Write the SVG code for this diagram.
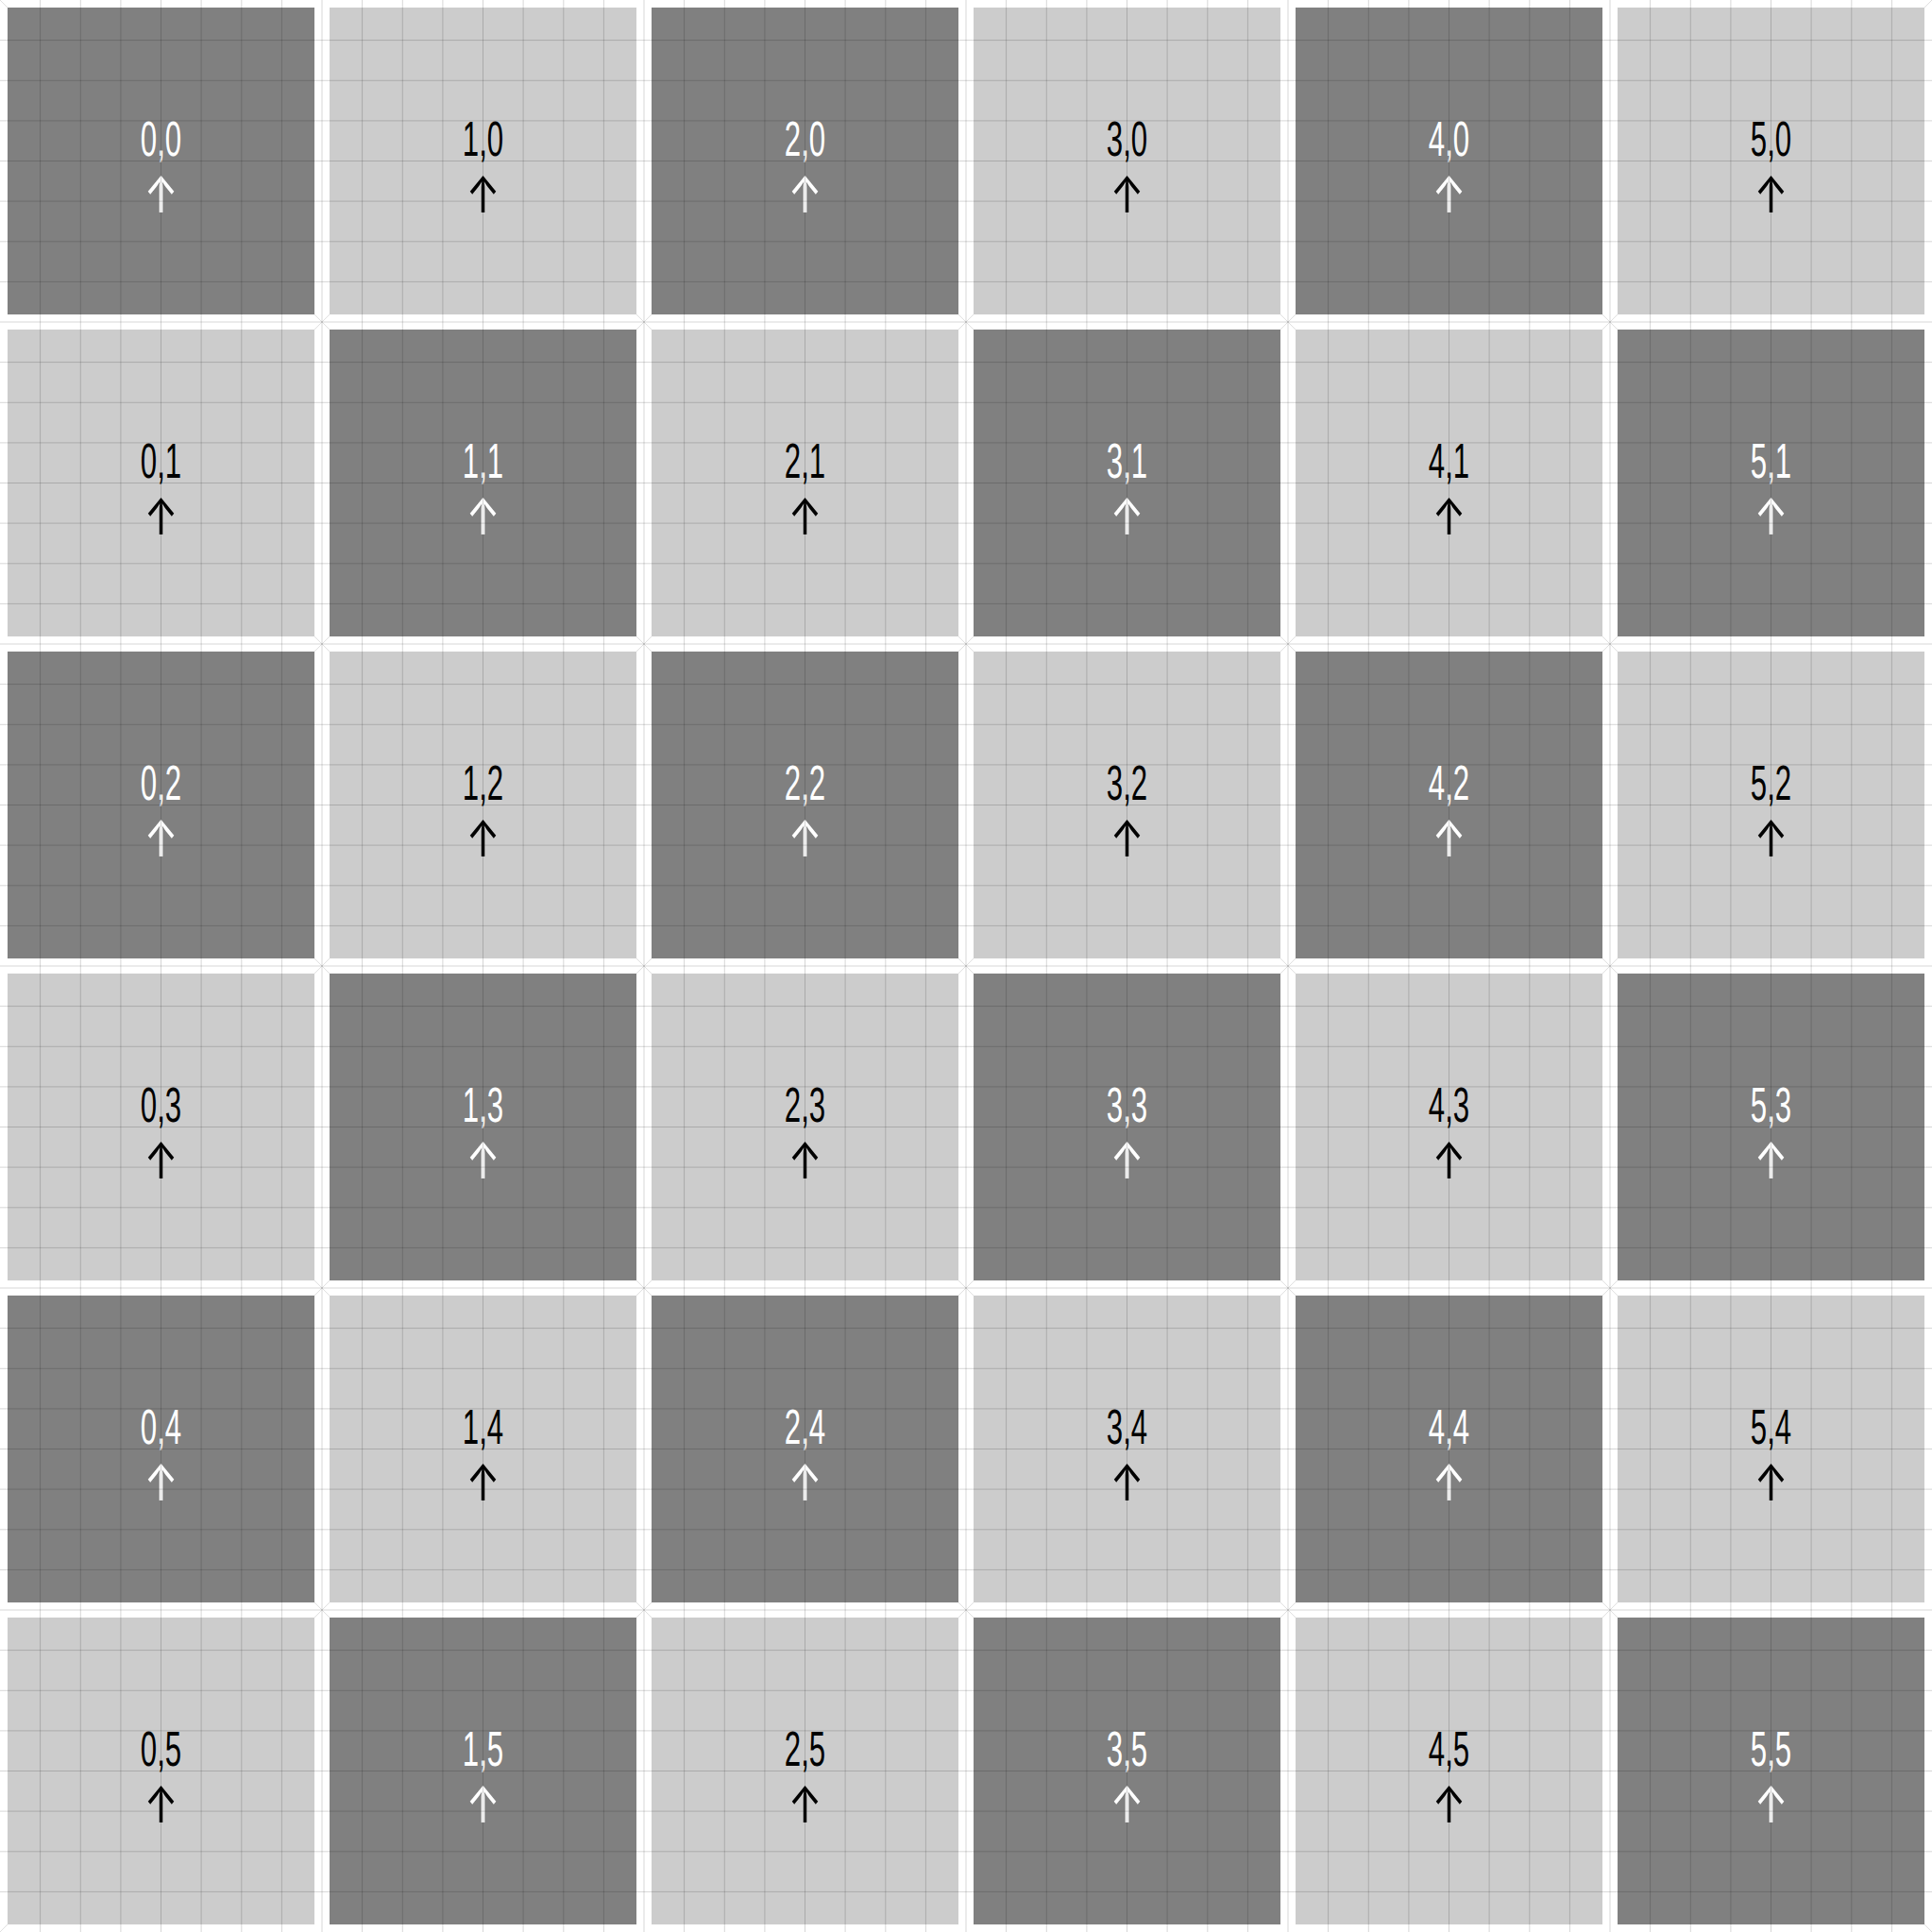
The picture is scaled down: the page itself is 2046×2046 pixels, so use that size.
<svg xmlns="http://www.w3.org/2000/svg" width="2046" height="2046" viewBox="0 0 2046 2046">
<style>
.d{fill:#808080}
.l{fill:#cccccc}
.g{stroke:#000;stroke-opacity:0.16;stroke-width:1;fill:none}
.x{stroke:#000;stroke-opacity:0.12;stroke-width:1;fill:none}
.t{font-family:"Liberation Sans",Arial,sans-serif;font-size:52px;text-anchor:middle}
.a{font-family:Inter,"DejaVu Sans",sans-serif;font-size:54px;font-weight:400;text-anchor:middle}
.w{fill:#ffffff}
.k{fill:#000000}
</style>
<defs>
<g id="corner"><path class="x" d="M-8,-8L8,8M-8,8L8,-8"/></g>
</defs>
<rect width="2046" height="2046" fill="#ffffff"/>
<g id="tiles">
<g id="n0_0"><rect class="d" x="8" y="8" width="325" height="325"/><text class="t w" transform="translate(170.5,165) scale(0.6,1)">0,0</text><text class="a w" transform="translate(170.5,225) scale(0.8,1)">↑</text></g>
<g id="n1_0"><rect class="l" x="349" y="8" width="325" height="325"/><text class="t k" transform="translate(511.5,165) scale(0.6,1)">1,0</text><text class="a k" transform="translate(511.5,225) scale(0.8,1)">↑</text></g>
<g id="n2_0"><rect class="d" x="690" y="8" width="325" height="325"/><text class="t w" transform="translate(852.5,165) scale(0.6,1)">2,0</text><text class="a w" transform="translate(852.5,225) scale(0.8,1)">↑</text></g>
<g id="n3_0"><rect class="l" x="1031" y="8" width="325" height="325"/><text class="t k" transform="translate(1193.5,165) scale(0.6,1)">3,0</text><text class="a k" transform="translate(1193.5,225) scale(0.8,1)">↑</text></g>
<g id="n4_0"><rect class="d" x="1372" y="8" width="325" height="325"/><text class="t w" transform="translate(1534.5,165) scale(0.6,1)">4,0</text><text class="a w" transform="translate(1534.5,225) scale(0.8,1)">↑</text></g>
<g id="n5_0"><rect class="l" x="1713" y="8" width="325" height="325"/><text class="t k" transform="translate(1875.5,165) scale(0.6,1)">5,0</text><text class="a k" transform="translate(1875.5,225) scale(0.8,1)">↑</text></g>

<g id="n0_1"><rect class="l" x="8" y="349" width="325" height="325"/><text class="t k" transform="translate(170.5,506) scale(0.6,1)">0,1</text><text class="a k" transform="translate(170.5,566) scale(0.8,1)">↑</text></g>
<g id="n1_1"><rect class="d" x="349" y="349" width="325" height="325"/><text class="t w" transform="translate(511.5,506) scale(0.6,1)">1,1</text><text class="a w" transform="translate(511.5,566) scale(0.8,1)">↑</text></g>
<g id="n2_1"><rect class="l" x="690" y="349" width="325" height="325"/><text class="t k" transform="translate(852.5,506) scale(0.6,1)">2,1</text><text class="a k" transform="translate(852.5,566) scale(0.8,1)">↑</text></g>
<g id="n3_1"><rect class="d" x="1031" y="349" width="325" height="325"/><text class="t w" transform="translate(1193.5,506) scale(0.6,1)">3,1</text><text class="a w" transform="translate(1193.5,566) scale(0.8,1)">↑</text></g>
<g id="n4_1"><rect class="l" x="1372" y="349" width="325" height="325"/><text class="t k" transform="translate(1534.5,506) scale(0.6,1)">4,1</text><text class="a k" transform="translate(1534.5,566) scale(0.8,1)">↑</text></g>
<g id="n5_1"><rect class="d" x="1713" y="349" width="325" height="325"/><text class="t w" transform="translate(1875.5,506) scale(0.6,1)">5,1</text><text class="a w" transform="translate(1875.5,566) scale(0.8,1)">↑</text></g>

<g id="n0_2"><rect class="d" x="8" y="690" width="325" height="325"/><text class="t w" transform="translate(170.5,847) scale(0.6,1)">0,2</text><text class="a w" transform="translate(170.5,907) scale(0.8,1)">↑</text></g>
<g id="n1_2"><rect class="l" x="349" y="690" width="325" height="325"/><text class="t k" transform="translate(511.5,847) scale(0.6,1)">1,2</text><text class="a k" transform="translate(511.5,907) scale(0.8,1)">↑</text></g>
<g id="n2_2"><rect class="d" x="690" y="690" width="325" height="325"/><text class="t w" transform="translate(852.5,847) scale(0.6,1)">2,2</text><text class="a w" transform="translate(852.5,907) scale(0.8,1)">↑</text></g>
<g id="n3_2"><rect class="l" x="1031" y="690" width="325" height="325"/><text class="t k" transform="translate(1193.5,847) scale(0.6,1)">3,2</text><text class="a k" transform="translate(1193.5,907) scale(0.8,1)">↑</text></g>
<g id="n4_2"><rect class="d" x="1372" y="690" width="325" height="325"/><text class="t w" transform="translate(1534.5,847) scale(0.6,1)">4,2</text><text class="a w" transform="translate(1534.5,907) scale(0.8,1)">↑</text></g>
<g id="n5_2"><rect class="l" x="1713" y="690" width="325" height="325"/><text class="t k" transform="translate(1875.5,847) scale(0.6,1)">5,2</text><text class="a k" transform="translate(1875.5,907) scale(0.8,1)">↑</text></g>

<g id="n0_3"><rect class="l" x="8" y="1031" width="325" height="325"/><text class="t k" transform="translate(170.5,1188) scale(0.6,1)">0,3</text><text class="a k" transform="translate(170.5,1248) scale(0.8,1)">↑</text></g>
<g id="n1_3"><rect class="d" x="349" y="1031" width="325" height="325"/><text class="t w" transform="translate(511.5,1188) scale(0.6,1)">1,3</text><text class="a w" transform="translate(511.5,1248) scale(0.8,1)">↑</text></g>
<g id="n2_3"><rect class="l" x="690" y="1031" width="325" height="325"/><text class="t k" transform="translate(852.5,1188) scale(0.6,1)">2,3</text><text class="a k" transform="translate(852.5,1248) scale(0.8,1)">↑</text></g>
<g id="n3_3"><rect class="d" x="1031" y="1031" width="325" height="325"/><text class="t w" transform="translate(1193.5,1188) scale(0.6,1)">3,3</text><text class="a w" transform="translate(1193.5,1248) scale(0.8,1)">↑</text></g>
<g id="n4_3"><rect class="l" x="1372" y="1031" width="325" height="325"/><text class="t k" transform="translate(1534.5,1188) scale(0.6,1)">4,3</text><text class="a k" transform="translate(1534.5,1248) scale(0.8,1)">↑</text></g>
<g id="n5_3"><rect class="d" x="1713" y="1031" width="325" height="325"/><text class="t w" transform="translate(1875.5,1188) scale(0.6,1)">5,3</text><text class="a w" transform="translate(1875.5,1248) scale(0.8,1)">↑</text></g>

<g id="n0_4"><rect class="d" x="8" y="1372" width="325" height="325"/><text class="t w" transform="translate(170.5,1529) scale(0.6,1)">0,4</text><text class="a w" transform="translate(170.5,1589) scale(0.8,1)">↑</text></g>
<g id="n1_4"><rect class="l" x="349" y="1372" width="325" height="325"/><text class="t k" transform="translate(511.5,1529) scale(0.6,1)">1,4</text><text class="a k" transform="translate(511.5,1589) scale(0.8,1)">↑</text></g>
<g id="n2_4"><rect class="d" x="690" y="1372" width="325" height="325"/><text class="t w" transform="translate(852.5,1529) scale(0.6,1)">2,4</text><text class="a w" transform="translate(852.5,1589) scale(0.8,1)">↑</text></g>
<g id="n3_4"><rect class="l" x="1031" y="1372" width="325" height="325"/><text class="t k" transform="translate(1193.5,1529) scale(0.6,1)">3,4</text><text class="a k" transform="translate(1193.5,1589) scale(0.8,1)">↑</text></g>
<g id="n4_4"><rect class="d" x="1372" y="1372" width="325" height="325"/><text class="t w" transform="translate(1534.5,1529) scale(0.6,1)">4,4</text><text class="a w" transform="translate(1534.5,1589) scale(0.8,1)">↑</text></g>
<g id="n5_4"><rect class="l" x="1713" y="1372" width="325" height="325"/><text class="t k" transform="translate(1875.5,1529) scale(0.6,1)">5,4</text><text class="a k" transform="translate(1875.5,1589) scale(0.8,1)">↑</text></g>

<g id="n0_5"><rect class="l" x="8" y="1713" width="325" height="325"/><text class="t k" transform="translate(170.5,1870) scale(0.6,1)">0,5</text><text class="a k" transform="translate(170.5,1930) scale(0.8,1)">↑</text></g>
<g id="n1_5"><rect class="d" x="349" y="1713" width="325" height="325"/><text class="t w" transform="translate(511.5,1870) scale(0.6,1)">1,5</text><text class="a w" transform="translate(511.5,1930) scale(0.8,1)">↑</text></g>
<g id="n2_5"><rect class="l" x="690" y="1713" width="325" height="325"/><text class="t k" transform="translate(852.5,1870) scale(0.6,1)">2,5</text><text class="a k" transform="translate(852.5,1930) scale(0.8,1)">↑</text></g>
<g id="n3_5"><rect class="d" x="1031" y="1713" width="325" height="325"/><text class="t w" transform="translate(1193.5,1870) scale(0.6,1)">3,5</text><text class="a w" transform="translate(1193.5,1930) scale(0.8,1)">↑</text></g>
<g id="n4_5"><rect class="l" x="1372" y="1713" width="325" height="325"/><text class="t k" transform="translate(1534.5,1870) scale(0.6,1)">4,5</text><text class="a k" transform="translate(1534.5,1930) scale(0.8,1)">↑</text></g>
<g id="n5_5"><rect class="d" x="1713" y="1713" width="325" height="325"/><text class="t w" transform="translate(1875.5,1870) scale(0.6,1)">5,5</text><text class="a w" transform="translate(1875.5,1930) scale(0.8,1)">↑</text></g>
</g>
<g id="grid" class="g">
<path d="M42.6,0V2046M85.3,0V2046M127.9,0V2046M170.5,0V2046M213.1,0V2046M255.8,0V2046M298.4,0V2046M341,0V2046M383.6,0V2046M426.3,0V2046M468.9,0V2046M511.5,0V2046M554.1,0V2046M596.8,0V2046M639.4,0V2046M682,0V2046M724.6,0V2046M767.3,0V2046M809.9,0V2046M852.5,0V2046M895.1,0V2046M937.8,0V2046M980.4,0V2046M1023,0V2046M1065.6,0V2046M1108.3,0V2046M1150.9,0V2046M1193.5,0V2046M1236.1,0V2046M1278.8,0V2046M1321.4,0V2046M1364,0V2046M1406.6,0V2046M1449.3,0V2046M1491.9,0V2046M1534.5,0V2046M1577.1,0V2046M1619.8,0V2046M1662.4,0V2046M1705,0V2046M1747.6,0V2046M1790.3,0V2046M1832.9,0V2046M1875.5,0V2046M1918.1,0V2046M1960.8,0V2046M2003.4,0V2046"/>
<path d="M0,42.6H2046M0,85.3H2046M0,127.9H2046M0,170.5H2046M0,213.1H2046M0,255.8H2046M0,298.4H2046M0,341H2046M0,383.6H2046M0,426.3H2046M0,468.9H2046M0,511.5H2046M0,554.1H2046M0,596.8H2046M0,639.4H2046M0,682H2046M0,724.6H2046M0,767.3H2046M0,809.9H2046M0,852.5H2046M0,895.1H2046M0,937.8H2046M0,980.4H2046M0,1023H2046M0,1065.6H2046M0,1108.3H2046M0,1150.9H2046M0,1193.5H2046M0,1236.1H2046M0,1278.8H2046M0,1321.4H2046M0,1364H2046M0,1406.6H2046M0,1449.3H2046M0,1491.9H2046M0,1534.5H2046M0,1577.1H2046M0,1619.8H2046M0,1662.4H2046M0,1705H2046M0,1747.6H2046M0,1790.3H2046M0,1832.9H2046M0,1875.5H2046M0,1918.1H2046M0,1960.8H2046M0,2003.4H2046"/>
</g>
<g id="corners">
<path class="x" d="M0,0L8,8M2046,0L2038,8M0,2046L8,2038M2046,2046L2038,2038"/>
<use href="#corner" x="341" y="341"/><use href="#corner" x="682" y="341"/><use href="#corner" x="1023" y="341"/><use href="#corner" x="1364" y="341"/><use href="#corner" x="1705" y="341"/>
<use href="#corner" x="341" y="682"/><use href="#corner" x="682" y="682"/><use href="#corner" x="1023" y="682"/><use href="#corner" x="1364" y="682"/><use href="#corner" x="1705" y="682"/>
<use href="#corner" x="341" y="1023"/><use href="#corner" x="682" y="1023"/><use href="#corner" x="1023" y="1023"/><use href="#corner" x="1364" y="1023"/><use href="#corner" x="1705" y="1023"/>
<use href="#corner" x="341" y="1364"/><use href="#corner" x="682" y="1364"/><use href="#corner" x="1023" y="1364"/><use href="#corner" x="1364" y="1364"/><use href="#corner" x="1705" y="1364"/>
<use href="#corner" x="341" y="1705"/><use href="#corner" x="682" y="1705"/><use href="#corner" x="1023" y="1705"/><use href="#corner" x="1364" y="1705"/><use href="#corner" x="1705" y="1705"/>
</g>
</svg>
